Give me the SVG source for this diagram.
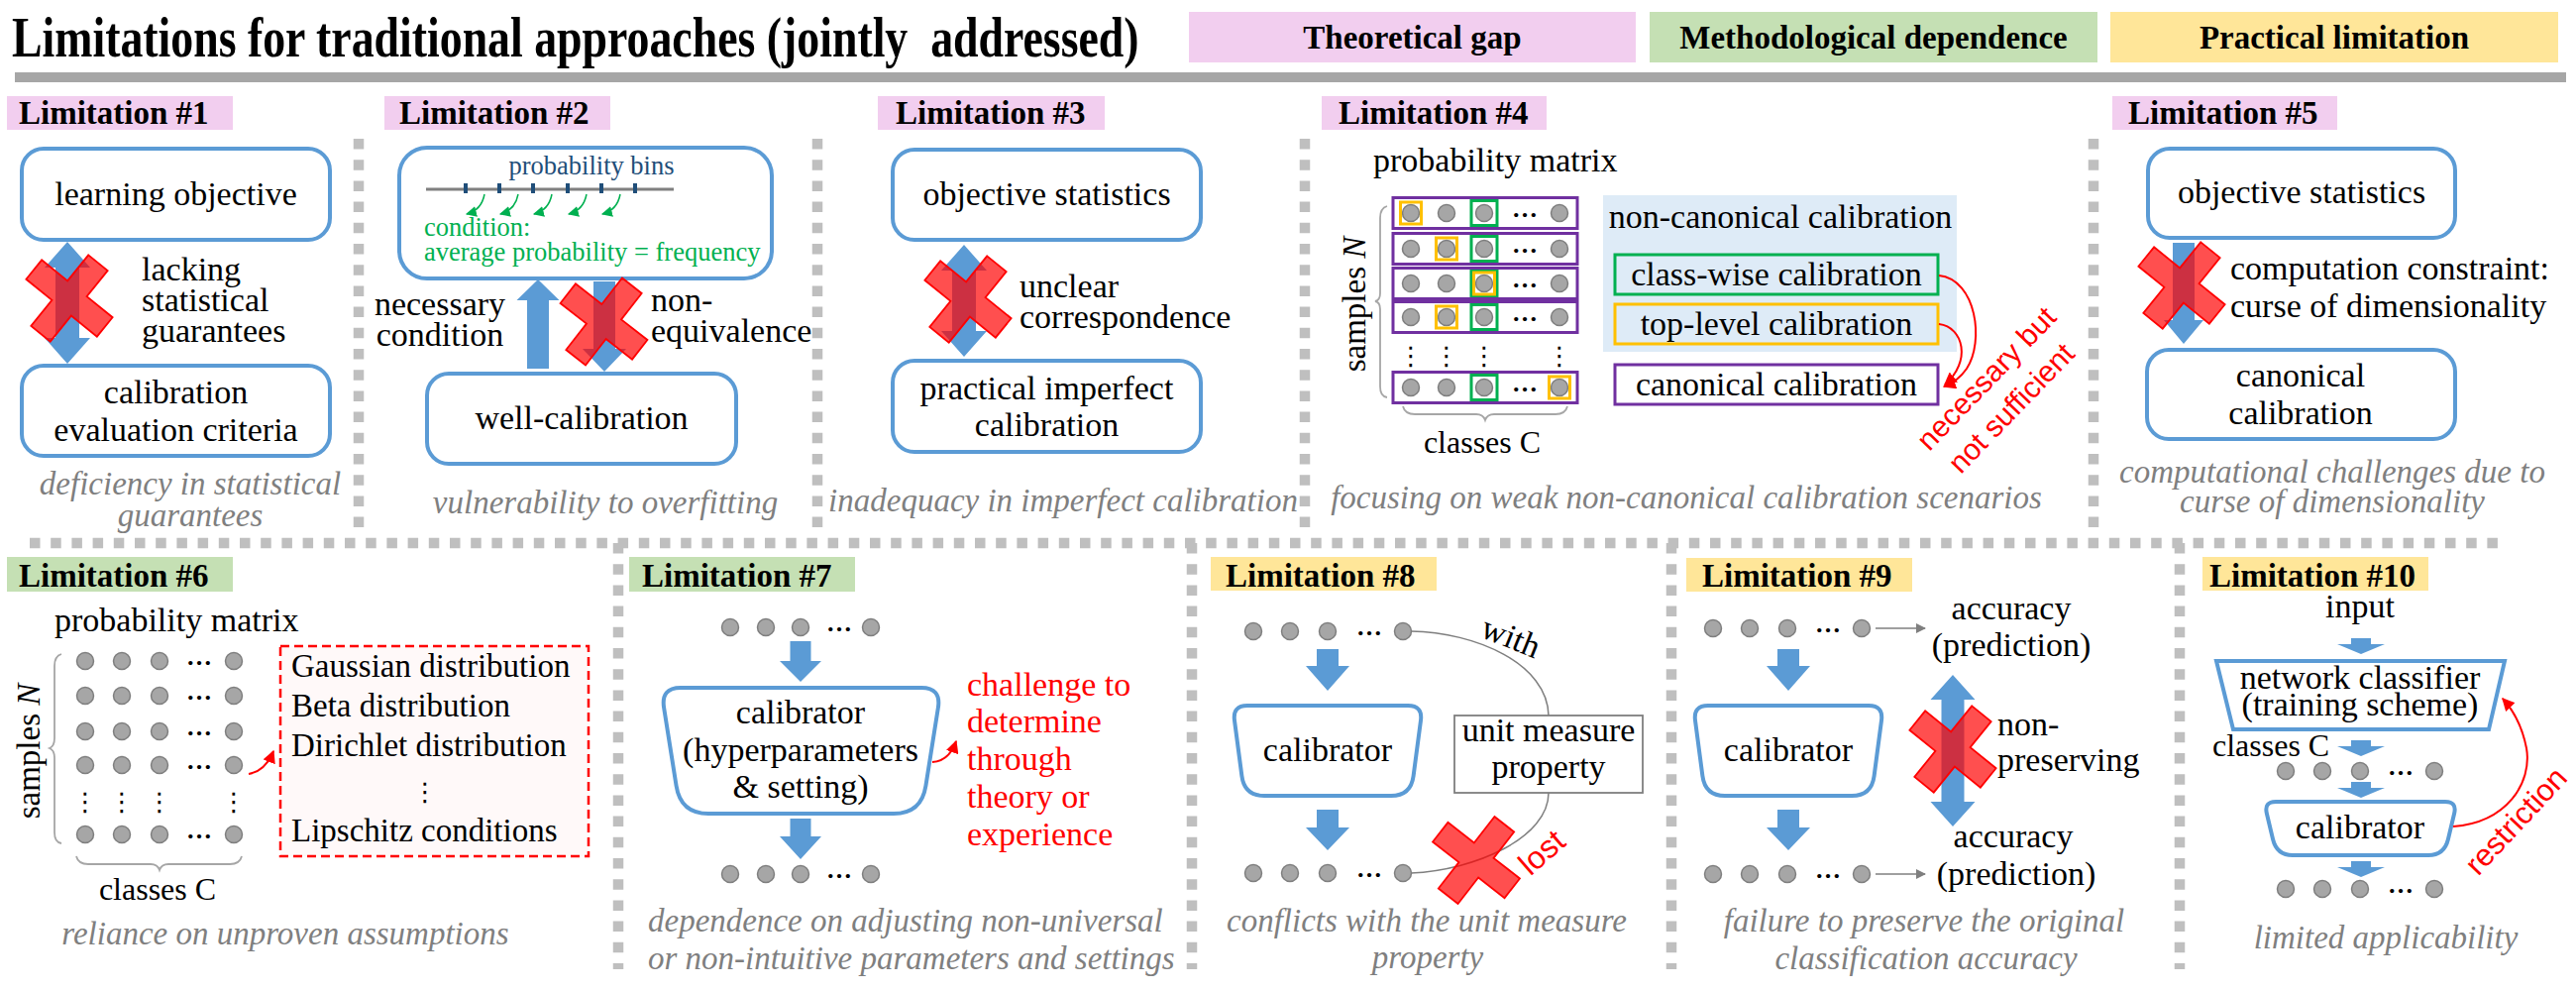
<svg xmlns="http://www.w3.org/2000/svg" width="2600" height="1000" viewBox="0 0 2600 1000">
<style>
text{font-family:"Liberation Serif","Times New Roman",serif;font-size:34px;fill:#000}
.lbl{font-weight:bold;font-size:33px}
.hdr{font-weight:bold;font-size:33px;text-anchor:middle}
.cap{font-style:italic;font-size:33px;fill:#7F7F7F}
.m{text-anchor:middle}
.box{fill:#fff;stroke:#5B9BD5;stroke-width:4}
.arr{fill:#5B9BD5}
.dot{fill:#A6A6A6;stroke:#7F7F7F;stroke-width:1.5}
.div{fill:none;stroke:#BFBFBF;stroke-width:10.5;stroke-dasharray:10.5 10.7}
.red{fill:#FF0000}
.sans{font-family:"Liberation Sans",Arial,sans-serif}
.ell{font-weight:bold;font-size:26px;text-anchor:middle}
.vel{font-family:"DejaVu Sans",sans-serif;font-size:26px;text-anchor:middle}
.grn{fill:#00B050;font-size:26.5px}
.pink{fill:#F2CEEF}.green{fill:#C5E0B4}.yellow{fill:#FFE699}
.thin{fill:none;stroke:#7F7F7F;stroke-width:1.5}
.brace{fill:none;stroke:#A6A6A6;stroke-width:1.8}
</style>
<defs>
<circle id="d" r="8.5" class="dot"/>
<path id="xm" d="M-12.5,-46 H12.5 V-12.5 H46 V12.5 H12.5 V46 H-12.5 V12.5 H-46 V-12.5 H-12.5 Z" fill="#FF0000" fill-opacity="0.69" stroke="#FF0000" stroke-width="1.8"/>
<marker id="mg" viewBox="0 0 10 10" refX="9" refY="5" markerUnits="userSpaceOnUse" markerWidth="11" markerHeight="11" orient="auto"><path d="M0,0 L10,5 L0,10 Z" fill="#00B050"/></marker>
<marker id="mr" viewBox="0 0 10 10" refX="9" refY="5" markerUnits="userSpaceOnUse" markerWidth="13" markerHeight="13" orient="auto"><path d="M0,0 L10,5 L0,10 Z" fill="#FF0000"/></marker>
<marker id="mk" viewBox="0 0 10 10" refX="9" refY="5" markerUnits="userSpaceOnUse" markerWidth="11" markerHeight="10" orient="auto"><path d="M0,0 L10,5 L0,10 Z" fill="#7F7F7F"/></marker>
</defs>
<rect width="2600" height="1000" fill="#fff"/>

<g id="header">
<text transform="translate(12,57) scale(0.79,1)" xml:space="preserve" style="font-weight:bold;font-size:58px">Limitations for traditional approaches (jointly  addressed)</text>
<rect class="pink" x="1200" y="12" width="451" height="51"/>
<text class="hdr" x="1425.5" y="49">Theoretical gap</text>
<rect class="green" x="1665" y="12" width="452" height="51"/>
<text class="hdr" x="1891" y="49">Methodological dependence</text>
<rect class="yellow" x="2130" y="12" width="452" height="51"/>
<text class="hdr" x="2356" y="49">Practical limitation</text>
<rect x="15" y="73" width="2575" height="10" fill="#A6A6A6"/>
</g>

<g id="dividers">
<path class="div" d="M362,140 V538 M825,140 V538 M1317,140 V538 M2113,140 V538"/>
<path class="div" d="M30,548 H2528"/>
<path class="div" d="M624,548 V978 M1203,548 V978 M1687,548 V978 M2200,548 V978"/>
</g>

<g id="lim1">
<rect class="pink" x="7" y="97" width="228" height="34"/>
<text class="lbl" x="19" y="125">Limitation #1</text>
<rect class="box" x="22" y="150" width="311" height="92" rx="22"/>
<text class="m" x="177.5" y="207">learning objective</text>
<text x="143" y="283">lacking</text>
<text x="143" y="314">statistical</text>
<text x="143" y="345">guarantees</text>
<rect class="box" x="22" y="369" width="311" height="91" rx="22"/>
<text class="m" x="177.5" y="407">calibration</text>
<text class="m" x="177.5" y="445">evaluation criteria</text>
<text class="cap m" x="192" y="499">deficiency in statistical</text>
<text class="cap m" x="192" y="531">guarantees</text>
</g>

<g id="lim2">
<rect class="pink" x="388" y="97" width="228" height="34"/>
<text class="lbl" x="403" y="125">Limitation #2</text>
<rect class="box" x="403" y="149" width="376" height="132" rx="28"/>
<text class="m" x="597" y="176" style="fill:#1F4E79;font-size:26.5px">probability bins</text>
<line x1="430" y1="191" x2="680" y2="191" stroke="#7F7F7F" stroke-width="3"/>
<g fill="#1F4E79">
<rect x="468" y="185" width="4" height="10"/><rect x="502" y="185" width="4" height="10"/><rect x="536" y="185" width="4" height="10"/>
<rect x="571" y="185" width="4" height="10"/><rect x="605" y="185" width="4" height="10"/><rect x="639" y="185" width="4" height="10"/>
</g>
<text class="grn" x="428" y="238">condition:</text>
<text class="grn" x="428" y="263">average probability = frequency</text>
<text class="m" x="444" y="318">necessary</text>
<text class="m" x="444" y="349">condition</text>
<text x="657" y="314">non-</text>
<text x="657" y="345">equivalence</text>
<rect class="box" x="431" y="377" width="312" height="91" rx="22"/>
<text class="m" x="587" y="433">well-calibration</text>
<text class="cap m" x="611" y="518">vulnerability to overfitting</text>
</g>

<g id="lim3">
<rect class="pink" x="886" y="97" width="229" height="34"/>
<text class="lbl" x="904" y="125">Limitation #3</text>
<rect class="box" x="901" y="151" width="311" height="91" rx="22"/>
<text class="m" x="1056.5" y="207">objective statistics</text>
<text x="1029" y="300">unclear</text>
<text x="1029" y="331">correspondence</text>
<rect class="box" x="901" y="364" width="311" height="92" rx="22"/>
<text class="m" x="1056.5" y="403">practical imperfect</text>
<text class="m" x="1056.5" y="440">calibration</text>
<text class="cap m" x="1073" y="516">inadequacy in imperfect calibration</text>
</g>

<g id="lim4">
<rect class="pink" x="1334" y="97" width="227" height="34"/>
<text class="lbl" x="1351" y="125">Limitation #4</text>
<text x="1386" y="173">probability matrix</text>
<text class="m" transform="translate(1378,307) rotate(-90)" style="font-size:33px">samples <tspan font-style="italic">N</tspan></text>
<path class="brace" d="M1400,208 Q1393,210 1393,220 V296 Q1393,303 1388,304 Q1393,305 1393,312 V390 Q1393,400 1400,401"/>
<g fill="none" stroke="#7030A0" stroke-width="3">
<rect x="1406" y="199.5" width="186" height="31"/>
<rect x="1406" y="235.5" width="186" height="31"/>
<rect x="1406" y="270.5" width="186" height="31"/>
<rect x="1406" y="304.5" width="186" height="31"/>
<rect x="1406" y="375.5" width="186" height="31"/>
</g>
<use href="#d" x="1424" y="215"/><use href="#d" x="1460" y="215"/><use href="#d" x="1498" y="215"/><use href="#d" x="1574" y="215"/>
<use href="#d" x="1424" y="251"/><use href="#d" x="1460" y="251"/><use href="#d" x="1498" y="251"/><use href="#d" x="1574" y="251"/>
<use href="#d" x="1424" y="286"/><use href="#d" x="1460" y="286"/><use href="#d" x="1498" y="286"/><use href="#d" x="1574" y="286"/>
<use href="#d" x="1424" y="320"/><use href="#d" x="1460" y="320"/><use href="#d" x="1498" y="320"/><use href="#d" x="1574" y="320"/>
<use href="#d" x="1424" y="391"/><use href="#d" x="1460" y="391"/><use href="#d" x="1498" y="391"/><use href="#d" x="1574" y="391"/>
<text class="ell" x="1539" y="219">…</text><text class="ell" x="1539" y="255">…</text><text class="ell" x="1539" y="290">…</text><text class="ell" x="1539" y="324">…</text><text class="ell" x="1539" y="395">…</text>
<text class="vel" x="1424" y="368">⋮</text><text class="vel" x="1460" y="368">⋮</text><text class="vel" x="1498" y="368">⋮</text><text class="vel" x="1574" y="368">⋮</text>
<g fill="none" stroke="#00B050" stroke-width="3">
<rect x="1485" y="202.5" width="26" height="25"/><rect x="1485" y="238.5" width="26" height="25"/><rect x="1485" y="273.5" width="26" height="25"/><rect x="1485" y="307.5" width="26" height="25"/><rect x="1485" y="378.5" width="26" height="25"/>
</g>
<g fill="none" stroke="#FFC000" stroke-width="3">
<rect x="1413.5" y="204" width="21" height="22"/><rect x="1449.5" y="240" width="21" height="22"/><rect x="1487.5" y="275" width="21" height="22"/><rect x="1449.5" y="309" width="21" height="22"/><rect x="1563.5" y="380" width="21" height="22"/>
</g>
<path class="brace" d="M1416,410 Q1418,418 1428,418 H1490 Q1497,418 1499,424 Q1501,418 1508,418 H1570 Q1580,418 1582,410"/>
<text class="m" x="1496" y="457" style="font-size:32px">classes C</text>
<rect x="1618" y="197" width="357" height="158" fill="#DEEBF7"/>
<text class="m" x="1797" y="230">non-canonical calibration</text>
<rect x="1630" y="257" width="326" height="40" fill="none" stroke="#00B050" stroke-width="3"/>
<text class="m" x="1793" y="288">class-wise calibration</text>
<rect x="1630" y="307" width="326" height="40" fill="none" stroke="#FFC000" stroke-width="3"/>
<text class="m" x="1793" y="338">top-level calibration</text>
<rect x="1630" y="368" width="326" height="40" fill="#fff" stroke="#7030A0" stroke-width="3"/>
<text class="m" x="1793" y="399">canonical calibration</text>
<text class="m sans red" transform="translate(2005,382) rotate(-46)" y="10" style="font-size:30px">necessary but</text>
<text class="m sans red" transform="translate(2030,412) rotate(-46)" y="10" style="font-size:30px">not sufficient</text>
<text class="cap m" x="1702" y="513">focusing on weak non-canonical calibration scenarios</text>
</g>

<g id="lim5">
<rect class="pink" x="2132" y="97" width="227" height="34"/>
<text class="lbl" x="2148" y="125">Limitation #5</text>
<rect class="box" x="2168" y="150" width="310" height="90" rx="22"/>
<text class="m" x="2323" y="205">objective statistics</text>
<text x="2251" y="282">computation constraint:</text>
<text x="2251" y="320">curse of dimensionality</text>
<rect class="box" x="2167" y="353" width="311" height="90" rx="22"/>
<text class="m" x="2322" y="390">canonical</text>
<text class="m" x="2322" y="428">calibration</text>
<text class="cap m" x="2354" y="487">computational challenges due to</text>
<text class="cap m" x="2354" y="517">curse of dimensionality</text>
</g>

<g id="lim6">
<rect class="green" x="7" y="562" width="228" height="35"/>
<text class="lbl" x="19" y="592">Limitation #6</text>
<text x="55" y="637">probability matrix</text>
<text class="m" transform="translate(40,758) rotate(-90)" style="font-size:33px">samples <tspan font-style="italic">N</tspan></text>
<path class="brace" d="M62,660 Q55,662 55,672 V745 Q55,753 50,755 Q55,757 55,765 V840 Q55,850 62,851"/>
<use href="#d" x="86" y="667"/><use href="#d" x="123" y="667"/><use href="#d" x="161" y="667"/><use href="#d" x="236" y="667"/>
<use href="#d" x="86" y="702"/><use href="#d" x="123" y="702"/><use href="#d" x="161" y="702"/><use href="#d" x="236" y="702"/>
<use href="#d" x="86" y="738"/><use href="#d" x="123" y="738"/><use href="#d" x="161" y="738"/><use href="#d" x="236" y="738"/>
<use href="#d" x="86" y="772"/><use href="#d" x="123" y="772"/><use href="#d" x="161" y="772"/><use href="#d" x="236" y="772"/>
<use href="#d" x="86" y="842"/><use href="#d" x="123" y="842"/><use href="#d" x="161" y="842"/><use href="#d" x="236" y="842"/>
<text class="ell" x="201" y="671">…</text><text class="ell" x="201" y="706">…</text><text class="ell" x="201" y="742">…</text><text class="ell" x="201" y="776">…</text><text class="ell" x="201" y="846">…</text>
<text class="vel" x="86" y="818">⋮</text><text class="vel" x="123" y="818">⋮</text><text class="vel" x="161" y="818">⋮</text><text class="vel" x="236" y="818">⋮</text>
<path class="brace" d="M77,864 Q79,872 89,872 H152 Q159,872 161,878 Q163,872 170,872 H232 Q242,872 244,864"/>
<text class="m" x="159" y="908" style="font-size:32px">classes C</text>
<rect x="283" y="652" width="311" height="212" fill="#FFF9F9" stroke="#FF0000" stroke-width="2.5" stroke-dasharray="9 5"/>
<text x="294" y="683" style="font-size:33px">Gaussian distribution</text>
<text x="294" y="723" style="font-size:33px">Beta distribution</text>
<text x="294" y="763" style="font-size:33px">Dirichlet distribution</text>
<text class="vel" x="429" y="808">⋮</text>
<text x="294" y="849" style="font-size:33px">Lipschitz conditions</text>
<text class="cap m" x="288" y="953">reliance on unproven assumptions</text>
</g>

<g id="lim7">
<rect class="green" x="635" y="562" width="228" height="35"/>
<text class="lbl" x="648" y="592">Limitation #7</text>
<use href="#d" x="737" y="633"/><use href="#d" x="773" y="633"/><use href="#d" x="808" y="633"/><use href="#d" x="879" y="633"/>
<text class="ell" x="847" y="637">…</text>
<path class="box" d="M687,694 H930 Q950,694 946.9,714 L934.4,793 Q930,821 902,821 H715 Q687,821 682.6,793 L670.1,714 Q667,694 687,694 Z"/>
<text class="m" x="808" y="730">calibrator</text>
<text class="m" x="808" y="768">(hyperparameters</text>
<text class="m" x="808" y="805">&amp; setting)</text>
<text class="red" x="976" y="702">challenge to</text>
<text class="red" x="976" y="739">determine</text>
<text class="red" x="976" y="777">through</text>
<text class="red" x="976" y="815">theory or</text>
<text class="red" x="976" y="853">experience</text>
<use href="#d" x="737" y="882"/><use href="#d" x="773" y="882"/><use href="#d" x="808" y="882"/><use href="#d" x="879" y="882"/>
<text class="ell" x="847" y="886">…</text>
<text class="cap" x="654" y="940">dependence on adjusting non-universal</text>
<text class="cap" x="654" y="978">or non-intuitive parameters and settings</text>
</g>

<g id="lim8">
<rect class="yellow" x="1222" y="562" width="228" height="34"/>
<text class="lbl" x="1237" y="592">Limitation #8</text>
<use href="#d" x="1265" y="637"/><use href="#d" x="1302" y="637"/><use href="#d" x="1340" y="637"/><use href="#d" x="1416" y="637"/>
<text class="ell" x="1382" y="641">…</text>
<path class="box" d="M1259,712 H1421 Q1436,712 1434,727 L1426.6,783 Q1424,803 1404,803 H1276 Q1256,803 1253.4,783 L1246,727 Q1244,712 1259,712 Z"/>
<text class="m" x="1340" y="768">calibrator</text>
<use href="#d" x="1265" y="881"/><use href="#d" x="1302" y="881"/><use href="#d" x="1340" y="881"/><use href="#d" x="1416" y="881"/>
<text class="ell" x="1382" y="885">…</text>
<rect x="1468" y="722" width="190" height="78" fill="#fff" stroke="#7F7F7F" stroke-width="1.8"/>
<text class="m" x="1563" y="748">unit measure</text>
<text class="m" x="1563" y="785">property</text>
<text class="m" transform="translate(1525,643) rotate(22)" y="11">with</text>
<text class="m sans red" transform="translate(1556,860) rotate(-41)" y="11" style="font-size:32px">lost</text>
<text class="cap m" x="1440" y="940">conflicts with the unit measure</text>
<text class="cap m" x="1441" y="977">property</text>
</g>

<g id="lim9">
<rect class="yellow" x="1702" y="563" width="228" height="34"/>
<text class="lbl" x="1718" y="592">Limitation #9</text>
<use href="#d" x="1729" y="634"/><use href="#d" x="1766" y="634"/><use href="#d" x="1804" y="634"/><use href="#d" x="1879" y="634"/>
<text class="ell" x="1845" y="638">…</text>
<text class="m" x="2030" y="625">accuracy</text>
<text class="m" x="2030" y="662">(prediction)</text>
<path class="box" d="M1724,712 H1886 Q1901,712 1899,727 L1891.6,783 Q1889,803 1869,803 H1741 Q1721,803 1718.4,783 L1711,727 Q1709,712 1724,712 Z"/>
<text class="m" x="1805" y="768">calibrator</text>
<text x="2016" y="742">non-</text>
<text x="2016" y="778">preserving</text>
<use href="#d" x="1729" y="882"/><use href="#d" x="1766" y="882"/><use href="#d" x="1804" y="882"/><use href="#d" x="1879" y="882"/>
<text class="ell" x="1845" y="886">…</text>
<text class="m" x="2032" y="855">accuracy</text>
<text class="m" x="2035" y="893">(prediction)</text>
<text class="cap m" x="1942" y="940">failure to preserve the original</text>
<text class="cap m" x="1944" y="978">classification accuracy</text>
</g>

<g id="lim10">
<rect class="yellow" x="2223" y="562" width="228" height="34"/>
<text class="lbl" x="2230" y="592">Limitation #10</text>
<text class="m" x="2382" y="623">input</text>
<path class="box" d="M2237,667 H2528 L2512,736 H2254 Z"/>
<text class="m" x="2382" y="695">network classifier</text>
<text class="m" x="2382" y="722">(training scheme)</text>
<text x="2233" y="763" style="font-size:32px">classes C</text>
<use href="#d" x="2307" y="778"/><use href="#d" x="2344" y="778"/><use href="#d" x="2382" y="778"/><use href="#d" x="2457" y="778"/>
<text class="ell" x="2423" y="782">…</text>
<path class="box" d="M2297,809 H2468 Q2480,809 2477.1,821 L2470.9,847 Q2467,863 2451,863 H2314 Q2298,863 2294.1,847 L2287.9,821 Q2285,809 2297,809 Z"/>
<text class="m" x="2382" y="846">calibrator</text>
<use href="#d" x="2307" y="897"/><use href="#d" x="2344" y="897"/><use href="#d" x="2382" y="897"/><use href="#d" x="2457" y="897"/>
<text class="ell" x="2423" y="901">…</text>
<text class="m sans red" transform="translate(2539,828) rotate(-47)" y="11" style="font-size:31px">restriction</text>
<text class="cap m" x="2408" y="957">limited applicability</text>
</g>

<g id="connectors">
<path class="arr" d="M68,244 L91,270 H80 V341 H91 L68,367 L45,341 H56 V270 H45 Z"/>
<path class="arr" d="M543,282 L564.5,303 H554 V372 H532 V303 H521.5 Z"/>
<path class="arr" d="M599,284 H621 V352 H632 L610,375 L588,352 H599 Z"/>
<g fill="none" stroke="#00B050" stroke-width="1.5" marker-end="url(#mg)">
<path d="M489,196 Q486,212 471,216"/><path d="M523,196 Q520,212 505,216"/><path d="M557,196 Q554,212 539,216"/><path d="M592,196 Q589,212 574,216"/><path d="M626,196 Q623,212 608,216"/>
</g>
<path class="arr" d="M973,247 L996,273 H985 V334 H996 L973,360 L950,334 H961 V273 H950 Z"/>
<g fill="none" stroke="#FF0000" stroke-width="2" marker-end="url(#mr)">
<path d="M1957,278 C1995,282 2003,345 1985,372 Q1976,385 1962,390"/>
<path d="M1957,327 C1982,330 1990,365 1963,388"/>
<path d="M251,781 Q268,778 276,758"/>
<path d="M941,769 Q958,768 965,748"/>
<path d="M2476,834 C2530,830 2556,790 2550,755 C2546,735 2538,718 2526,705"/>
</g>
<path class="arr" d="M2193,245 H2215 V323 H2224 L2204,347 L2184,323 H2193 Z"/>
<path class="arr" d="M797.5,647 H818.5 V667 H829 L808,688 L787,667 H797.5 Z"/>
<path class="arr" d="M797.5,826 H818.5 V844 H829 L808,867 L787,844 H797.5 Z"/>
<path class="arr" d="M1329,655 H1351 V672 H1362 L1340,697 L1318,672 H1329 Z"/>
<path class="arr" d="M1329,817 H1351 V835 H1362 L1340,858 L1318,835 H1329 Z"/>
<path class="thin" d="M1424,637 C1490,638 1562,670 1563,722"/>
<path class="thin" d="M1563,800 C1563,845 1490,878 1424,881"/>
<path class="arr" d="M1794,655 H1816 V672 H1827 L1805,697 L1783,672 H1794 Z"/>
<path class="arr" d="M1794,817 H1816 V835 H1827 L1805,858 L1783,835 H1794 Z"/>
<path class="arr" d="M1971,681 L1993.5,706 H1982.5 V809 H1993.5 L1971,834 L1948.5,809 H1959.5 V706 H1948.5 Z"/>
<path class="thin" d="M1893,634 H1943" marker-end="url(#mk)"/>
<path class="thin" d="M1893,882 H1943" marker-end="url(#mk)"/>
<path class="arr" d="M2373,644 H2393 V650 H2407 L2383,660 L2359,650 H2373 Z"/>
<path class="arr" d="M2373,747 H2393 V753 H2407 L2383,763 L2359,753 H2373 Z"/>
<path class="arr" d="M2373,789 H2393 V795 H2407 L2383,805 L2359,795 H2373 Z"/>
<path class="arr" d="M2373,869 H2393 V875 H2407 L2383,885 L2359,875 H2373 Z"/>
</g>

<g id="crosses">
<use href="#xm" transform="translate(70,301) rotate(39)"/>
<use href="#xm" transform="translate(609.5,324.5) rotate(38)"/>
<use href="#xm" transform="translate(977,302) rotate(39)"/>
<use href="#xm" transform="translate(2202,288) rotate(39)"/>
<use href="#xm" transform="translate(1490,868) rotate(38)"/>
<use href="#xm" transform="translate(1971,756) rotate(39)"/>
</g>
</svg>
